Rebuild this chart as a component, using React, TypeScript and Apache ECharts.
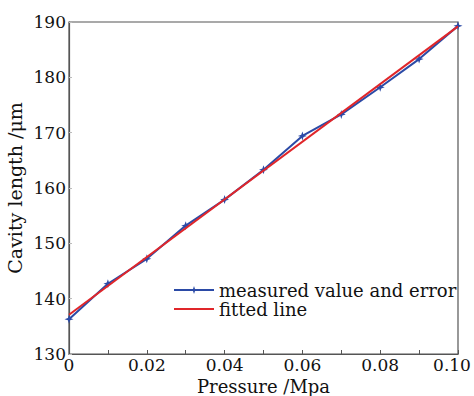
import React, { useEffect, useRef } from "react";
import * as echarts from "echarts";

// Pressure (MPa) at each measurement step
const pressure = [0, 0.01, 0.02, 0.03, 0.04, 0.05, 0.06, 0.07, 0.08, 0.09, 0.1];
// Measured cavity length (μm)
const measured = [136.3, 142.7, 147.2, 153.2, 157.9, 163.3, 169.4, 173.3, 178.2, 183.3, 189.3];
// Linear fit endpoints
const fitPressure = [0, 0.1];
const fitted = [137.1, 189.2];

const FONT = "DejaVu Serif";
const AXIS = "#555555";

export default function App() {
  const ref = useRef<HTMLDivElement>(null);

  useEffect(() => {
    if (!ref.current) return;
    const chart = echarts.init(ref.current, undefined, { renderer: "svg" });
    chart.setOption({
      animation: false,
      backgroundColor: "#ffffff",
      grid: {
        left: 69,
        right: 16,
        top: 22,
        bottom: 42,
        outerBoundsMode: "none",
        containLabel: false,
        show: true,
        borderColor: AXIS,
        borderWidth: 1.2,
      },
      legend: {
        orient: "vertical",
        left: 168,
        top: 276,
        padding: 5,
        itemWidth: 40,
        itemHeight: 10,
        itemGap: 1,
        textStyle: { fontFamily: FONT, fontSize: 18, color: "#111", lineHeight: 18 },
        data: [
          { name: "measured value and error" },
          { name: "fitted line", itemStyle: { opacity: 0 } },
        ],
      },
      xAxis: [
        {
          type: "value",
          min: 0,
          max: 0.1,
          interval: 0.02,
          name: "Pressure /Mpa",
          nameLocation: "middle",
          nameGap: 23,
          nameMoveOverlap: false,
          nameTextStyle: {
            fontFamily: FONT,
            fontSize: 18,
            lineHeight: 18,
            color: "#111",
            verticalAlign: "top",
          },
          axisLine: { show: true, lineStyle: { color: AXIS, width: 1.2 } },
          axisTick: { show: true, inside: true, length: 4, lineStyle: { color: AXIS } },
          minorTick: { show: true, splitNumber: 2, length: 4, lineStyle: { color: AXIS } },
          axisLabel: {
            fontFamily: FONT,
            fontSize: 17,
            lineHeight: 16,
            color: "#111",
            margin: 3,
            formatter: (v: number) =>
              v === 0 ? "0" : v >= 0.1 ? "{last|" + v.toFixed(2) + "}" : v.toFixed(2),
            rich: {
              last: {
                fontFamily: FONT,
                fontSize: 17,
                lineHeight: 16,
                color: "#111",
                padding: [0, 12, 0, 0],
              },
            },
          },
          splitLine: { show: false },
        },
      ],
      yAxis: [
        {
          type: "value",
          min: 130,
          max: 190,
          interval: 10,
          name: "Cavity length /μm",
          nameLocation: "middle",
          nameGap: 45,
          nameMoveOverlap: false,
          nameTextStyle: { fontFamily: FONT, fontSize: 19, color: "#111" },
          axisLine: { show: true, lineStyle: { color: AXIS, width: 1.2 } },
          axisTick: { show: true, inside: true, length: 3, lineStyle: { color: "#bbb" } },
          axisLabel: { fontFamily: FONT, fontSize: 17, color: "#111", margin: 3 },
          splitLine: { show: false },
        },
      ],
      series: [
        {
          name: "fitted line",
          type: "line",
          data: fitPressure.map((p, i) => [p, fitted[i]]),
          showSymbol: false,
          symbol: "none",
          lineStyle: { color: "#e0262a", width: 2 },
          itemStyle: { color: "#e0262a" },
          z: 3,
        },
        {
          name: "measured value and error",
          type: "line",
          data: pressure.map((p, i) => [p, measured[i]]),
          symbol: "path://M0,-10 L2.5,-2.5 L10,0 L2.5,2.5 L0,10 L-2.5,2.5 L-10,0 L-2.5,-2.5 Z",
          symbolSize: 9,
          lineStyle: { color: "#2b4aa6", width: 2 },
          itemStyle: { color: "#2b4aa6" },
          z: 2,
        },
      ],
    });
    return () => chart.dispose();
  }, []);

  return <div ref={ref} style={{ width: 474, height: 396, position: "absolute", left: 0, top: 0 }} />;
}
